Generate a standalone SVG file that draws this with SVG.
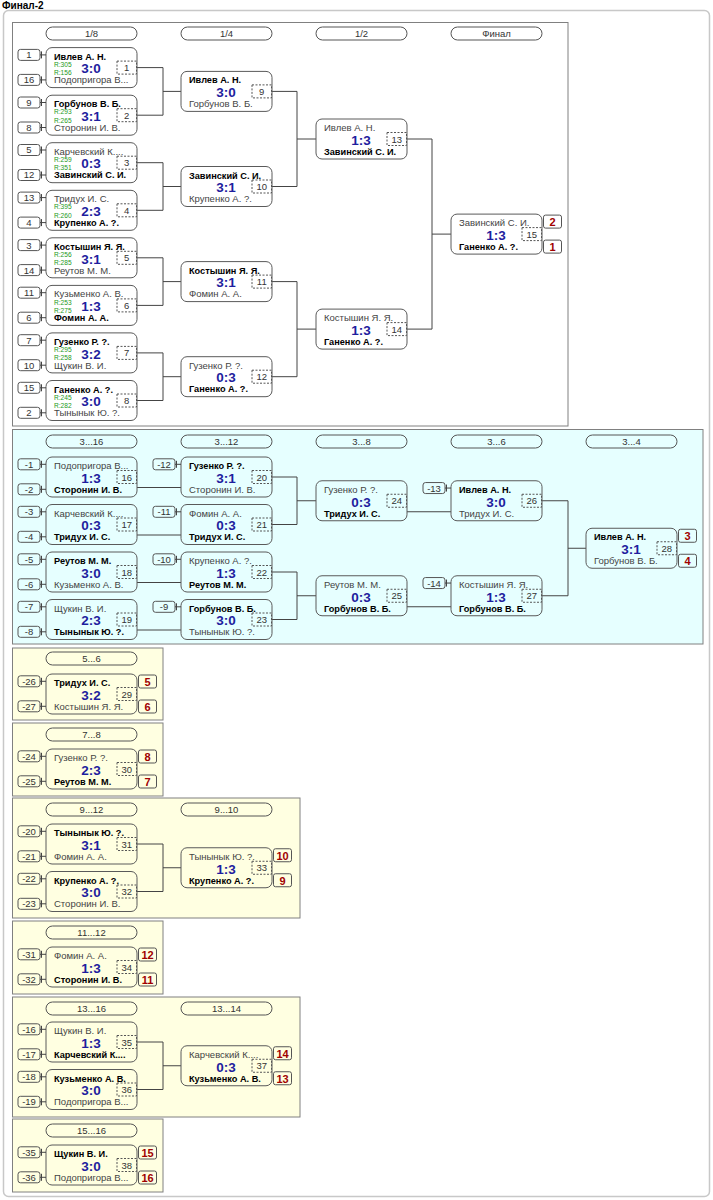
<svg xmlns="http://www.w3.org/2000/svg" xmlns:xlink="http://www.w3.org/1999/xlink" width="713" height="1200" viewBox="0 0 713 1200">
<style>
text{font-family:"Liberation Sans",Arial,sans-serif}
.box{fill:none;stroke:#5a5a5a;stroke-width:1}
.num{fill:none;stroke:#555;stroke-width:1;stroke-dasharray:2,1.5}
.sbx{fill:none;stroke:#555;stroke-width:1}
.ln{fill:none;stroke:#444;stroke-width:1}
.sec{stroke:#808080;stroke-width:1}
.pill{fill:none;stroke:#555;stroke-width:1}
.bdg{fill:none;stroke:#555;stroke-width:1}
.w{font-size:9.2px;font-weight:bold;fill:#000}
.l{font-size:9.5px;fill:#444}
.sc{font-size:13.5px;font-weight:bold;fill:#1e1e9e;text-anchor:middle}
.r{font-size:6.6px;fill:#229922}
.n{font-size:9.5px;fill:#333;text-anchor:middle}
.sd{font-size:9.5px;fill:#333;text-anchor:middle}
.bd{font-size:11px;font-weight:bold;fill:#a00000;text-anchor:middle}
.hd{font-size:9.5px;fill:#333;text-anchor:middle}
.tt{font-size:10px;font-weight:bold;fill:#000}
</style>
<defs>
<g id="frame"><rect class="box" width="91" height="40" rx="6"/><rect class="num" x="71" y="13.5" width="19.5" height="13"/></g>
<g id="st"><rect class="sbx" x="-28" y="1.8" width="22" height="11" rx="2.5"/><path class="ln" d="M-6,7.3H0M-4.5,3.8V10.8"/></g>
<g id="sb"><rect class="sbx" x="-28" y="26.8" width="22" height="11" rx="2.5"/><path class="ln" d="M-6,32.3H0M-4.5,28.8V35.8"/></g>
<rect id="bt" class="bdg" x="92.5" y="1" width="18" height="13" rx="2"/>
<rect id="bb" class="bdg" x="92.5" y="26" width="18" height="13" rx="2"/>
<rect id="pl" class="pill" width="91" height="13" rx="6.5"/>
</defs>
<rect width="713" height="1200" fill="#fff"/>
<text class="tt" x="2" y="9">Финал-2</text>
<rect x="3.5" y="10.5" width="706" height="1186" rx="5" fill="#fff" stroke="#c8c8c8" stroke-width="1.5"/>

<!-- sections -->
<g id="sections">
<rect class="sec" x="12.5" y="22.5" width="555.5" height="403.5" fill="#fff"/>
<rect class="sec" x="12.5" y="429.5" width="690.5" height="214.5" fill="#e6ffff"/>
<rect class="sec" x="12.5" y="648" width="150.5" height="72" fill="#ffffe1"/>
<rect class="sec" x="12.5" y="723" width="150.5" height="73" fill="#ffffe1"/>
<rect class="sec" x="12.5" y="798" width="287.5" height="120" fill="#ffffe1"/>
<rect class="sec" x="12.5" y="921" width="150.5" height="73" fill="#ffffe1"/>
<rect class="sec" x="12.5" y="997" width="287.5" height="120" fill="#ffffe1"/>
<rect class="sec" x="12.5" y="1119" width="150.5" height="73" fill="#ffffe1"/>
</g>

<!-- headers -->
<g id="headers">
<use href="#pl" x="46" y="27"/><text class="hd" x="91.5" y="37">1/8</text>
<use href="#pl" x="181" y="27"/><text class="hd" x="226.5" y="37">1/4</text>
<use href="#pl" x="316" y="27"/><text class="hd" x="361.5" y="37">1/2</text>
<use href="#pl" x="451" y="27"/><text class="hd" x="496.5" y="37">Финал</text>
<use href="#pl" x="46" y="435"/><text class="hd" x="91.5" y="445">3...16</text>
<use href="#pl" x="181" y="435"/><text class="hd" x="226.5" y="445">3...12</text>
<use href="#pl" x="316" y="435"/><text class="hd" x="361.5" y="445">3...8</text>
<use href="#pl" x="451" y="435"/><text class="hd" x="496.5" y="445">3...6</text>
<use href="#pl" x="586" y="435"/><text class="hd" x="631.5" y="445">3...4</text>
<use href="#pl" x="46" y="652"/><text class="hd" x="91.5" y="662">5...6</text>
<use href="#pl" x="46" y="728"/><text class="hd" x="91.5" y="738">7...8</text>
<use href="#pl" x="46" y="803"/><text class="hd" x="91.5" y="813">9...12</text>
<use href="#pl" x="181" y="803"/><text class="hd" x="226.5" y="813">9...10</text>
<use href="#pl" x="46" y="926"/><text class="hd" x="91.5" y="936">11...12</text>
<use href="#pl" x="46" y="1002"/><text class="hd" x="91.5" y="1012">13...16</text>
<use href="#pl" x="181" y="1002"/><text class="hd" x="226.5" y="1012">13...14</text>
<use href="#pl" x="46" y="1124"/><text class="hd" x="91.5" y="1134">15...16</text>
</g>

<!-- connectors -->
<g id="connectors" class="ln">
<path d="M137,67.6H163V115.2H137M163,91.4H181"/>
<path d="M137,162.7H163V210.3H137M163,186.5H181"/>
<path d="M137,257.8H163V305.4H137M163,281.6H181"/>
<path d="M137,352.9H163V400.5H137M163,376.7H181"/>
<path d="M272,91.4H297V186.5H272M297,139H316"/>
<path d="M272,281.6H297V376.7H272M297,329.1H316"/>
<path d="M407,139H432V329.1H407M432,234.1H451"/>
<path d="M137,487.5H181M137,535H181M137,582.5H181M137,630H181"/>
<path d="M272,477H297V524.5H272M297,500.75H316"/>
<path d="M272,572H297V619.5H272M297,595.75H316"/>
<path d="M407,511.75H451M407,606.75H451"/>
<path d="M542,500.75H568V595.75H542M568,548.25H586"/>
<path d="M137,844H163V891.5H137M163,867.75H181"/>
<path d="M137,1042H163V1089.5H137M163,1065.75H181"/>
</g>

<!-- main bracket -->
<g id="m1" transform="translate(46,47.6)"><use href="#frame"/><use href="#st"/><use href="#sb"/>
<text class="sd" x="-17" y="10.8">1</text><text class="sd" x="-17" y="35.8">16</text>
<text class="w" x="8" y="12">Ивлев А. Н.</text><text class="r" x="8" y="19.2">R:305</text><text class="r" x="8" y="27.4">R:156</text><text class="sc" x="45" y="25.8">3:0</text><text class="l" x="8" y="35.8">Подопригора В...</text><text class="n" x="80.75" y="23.5">1</text></g>
<g id="m2" transform="translate(46,95.2)"><use href="#frame"/><use href="#st"/><use href="#sb"/>
<text class="sd" x="-17" y="10.8">9</text><text class="sd" x="-17" y="35.8">8</text>
<text class="w" x="8" y="12">Горбунов В. Б.</text><text class="r" x="8" y="19.2">R:293</text><text class="r" x="8" y="27.4">R:265</text><text class="sc" x="45" y="25.8">3:1</text><text class="l" x="8" y="35.8">Сторонин И. В.</text><text class="n" x="80.75" y="23.5">2</text></g>
<g id="m3" transform="translate(46,142.7)"><use href="#frame"/><use href="#st"/><use href="#sb"/>
<text class="sd" x="-17" y="10.8">5</text><text class="sd" x="-17" y="35.8">12</text>
<text class="l" x="8" y="12">Карчевский К....</text><text class="r" x="8" y="19.2">R:259</text><text class="r" x="8" y="27.4">R:351</text><text class="sc" x="45" y="25.8">0:3</text><text class="w" x="8" y="35.8">Завинский С. И.</text><text class="n" x="80.75" y="23.5">3</text></g>
<g id="m4" transform="translate(46,190.3)"><use href="#frame"/><use href="#st"/><use href="#sb"/>
<text class="sd" x="-17" y="10.8">13</text><text class="sd" x="-17" y="35.8">4</text>
<text class="l" x="8" y="12">Тридух И. С.</text><text class="r" x="8" y="19.2">R:395</text><text class="r" x="8" y="27.4">R:260</text><text class="sc" x="45" y="25.8">2:3</text><text class="w" x="8" y="35.8">Крупенко А. ?.</text><text class="n" x="80.75" y="23.5">4</text></g>
<g id="m5" transform="translate(46,237.8)"><use href="#frame"/><use href="#st"/><use href="#sb"/>
<text class="sd" x="-17" y="10.8">3</text><text class="sd" x="-17" y="35.8">14</text>
<text class="w" x="8" y="12">Костышин Я. Я.</text><text class="r" x="8" y="19.2">R:256</text><text class="r" x="8" y="27.4">R:285</text><text class="sc" x="45" y="25.8">3:1</text><text class="l" x="8" y="35.8">Реутов М. М.</text><text class="n" x="80.75" y="23.5">5</text></g>
<g id="m6" transform="translate(46,285.4)"><use href="#frame"/><use href="#st"/><use href="#sb"/>
<text class="sd" x="-17" y="10.8">11</text><text class="sd" x="-17" y="35.8">6</text>
<text class="l" x="8" y="12">Кузьменко А. В.</text><text class="r" x="8" y="19.2">R:253</text><text class="r" x="8" y="27.4">R:275</text><text class="sc" x="45" y="25.8">1:3</text><text class="w" x="8" y="35.8">Фомин А. А.</text><text class="n" x="80.75" y="23.5">6</text></g>
<g id="m7" transform="translate(46,332.9)"><use href="#frame"/><use href="#st"/><use href="#sb"/>
<text class="sd" x="-17" y="10.8">7</text><text class="sd" x="-17" y="35.8">10</text>
<text class="w" x="8" y="12">Гузенко Р. ?.</text><text class="r" x="8" y="19.2">R:295</text><text class="r" x="8" y="27.4">R:258</text><text class="sc" x="45" y="25.8">3:2</text><text class="l" x="8" y="35.8">Щукин В. И.</text><text class="n" x="80.75" y="23.5">7</text></g>
<g id="m8" transform="translate(46,380.5)"><use href="#frame"/><use href="#st"/><use href="#sb"/>
<text class="sd" x="-17" y="10.8">15</text><text class="sd" x="-17" y="35.8">2</text>
<text class="w" x="8" y="12">Ганенко А. ?.</text><text class="r" x="8" y="19.2">R:245</text><text class="r" x="8" y="27.4">R:282</text><text class="sc" x="45" y="25.8">3:0</text><text class="l" x="8" y="35.8">Тынынык Ю. ?.</text><text class="n" x="80.75" y="23.5">8</text></g>
<g id="m9" transform="translate(181,71.4)"><use href="#frame"/>
<text class="w" x="8" y="12">Ивлев А. Н.</text><text class="sc" x="45" y="25.8">3:0</text><text class="l" x="8" y="35.8">Горбунов В. Б.</text><text class="n" x="80.75" y="23.5">9</text></g>
<g id="m10" transform="translate(181,166.5)"><use href="#frame"/>
<text class="w" x="8" y="12">Завинский С. И.</text><text class="sc" x="45" y="25.8">3:1</text><text class="l" x="8" y="35.8">Крупенко А. ?.</text><text class="n" x="80.75" y="23.5">10</text></g>
<g id="m11" transform="translate(181,261.6)"><use href="#frame"/>
<text class="w" x="8" y="12">Костышин Я. Я.</text><text class="sc" x="45" y="25.8">3:1</text><text class="l" x="8" y="35.8">Фомин А. А.</text><text class="n" x="80.75" y="23.5">11</text></g>
<g id="m12" transform="translate(181,356.7)"><use href="#frame"/>
<text class="l" x="8" y="12">Гузенко Р. ?.</text><text class="sc" x="45" y="25.8">0:3</text><text class="w" x="8" y="35.8">Ганенко А. ?.</text><text class="n" x="80.75" y="23.5">12</text></g>
<g id="m13" transform="translate(316,119)"><use href="#frame"/>
<text class="l" x="8" y="12">Ивлев А. Н.</text><text class="sc" x="45" y="25.8">1:3</text><text class="w" x="8" y="35.8">Завинский С. И.</text><text class="n" x="80.75" y="23.5">13</text></g>
<g id="m14" transform="translate(316,309.1)"><use href="#frame"/>
<text class="l" x="8" y="12">Костышин Я. Я.</text><text class="sc" x="45" y="25.8">1:3</text><text class="w" x="8" y="35.8">Ганенко А. ?.</text><text class="n" x="80.75" y="23.5">14</text></g>
<g id="m15" transform="translate(451,214.1)"><use href="#frame"/><use href="#bt"/><use href="#bb"/>
<text class="l" x="8" y="12">Завинский С. И.</text><text class="sc" x="45" y="25.8">1:3</text><text class="w" x="8" y="35.8">Ганенко А. ?.</text><text class="n" x="80.75" y="23.5">15</text>
<text class="bd" x="101.5" y="11.8">2</text><text class="bd" x="101.5" y="36.8">1</text></g>

<!-- 3...16 -->
<g id="m16" transform="translate(46,457)"><use href="#frame"/><use href="#st"/><use href="#sb"/>
<text class="sd" x="-17" y="10.8">-1</text><text class="sd" x="-17" y="35.8">-2</text>
<text class="l" x="8" y="12">Подопригора В...</text><text class="sc" x="45" y="25.8">1:3</text><text class="w" x="8" y="35.8">Сторонин И. В.</text><text class="n" x="80.75" y="23.5">16</text></g>
<g id="m17" transform="translate(46,504.5)"><use href="#frame"/><use href="#st"/><use href="#sb"/>
<text class="sd" x="-17" y="10.8">-3</text><text class="sd" x="-17" y="35.8">-4</text>
<text class="l" x="8" y="12">Карчевский К....</text><text class="sc" x="45" y="25.8">0:3</text><text class="w" x="8" y="35.8">Тридух И. С.</text><text class="n" x="80.75" y="23.5">17</text></g>
<g id="m18" transform="translate(46,552)"><use href="#frame"/><use href="#st"/><use href="#sb"/>
<text class="sd" x="-17" y="10.8">-5</text><text class="sd" x="-17" y="35.8">-6</text>
<text class="w" x="8" y="12">Реутов М. М.</text><text class="sc" x="45" y="25.8">3:0</text><text class="l" x="8" y="35.8">Кузьменко А. В.</text><text class="n" x="80.75" y="23.5">18</text></g>
<g id="m19" transform="translate(46,599.5)"><use href="#frame"/><use href="#st"/><use href="#sb"/>
<text class="sd" x="-17" y="10.8">-7</text><text class="sd" x="-17" y="35.8">-8</text>
<text class="l" x="8" y="12">Щукин В. И.</text><text class="sc" x="45" y="25.8">2:3</text><text class="w" x="8" y="35.8">Тынынык Ю. ?.</text><text class="n" x="80.75" y="23.5">19</text></g>
<g id="m20" transform="translate(181,457)"><use href="#frame"/><use href="#st"/>
<text class="sd" x="-17" y="10.8">-12</text>
<text class="w" x="8" y="12">Гузенко Р. ?.</text><text class="sc" x="45" y="25.8">3:1</text><text class="l" x="8" y="35.8">Сторонин И. В.</text><text class="n" x="80.75" y="23.5">20</text></g>
<g id="m21" transform="translate(181,504.5)"><use href="#frame"/><use href="#st"/>
<text class="sd" x="-17" y="10.8">-11</text>
<text class="l" x="8" y="12">Фомин А. А.</text><text class="sc" x="45" y="25.8">0:3</text><text class="w" x="8" y="35.8">Тридух И. С.</text><text class="n" x="80.75" y="23.5">21</text></g>
<g id="m22" transform="translate(181,552)"><use href="#frame"/><use href="#st"/>
<text class="sd" x="-17" y="10.8">-10</text>
<text class="l" x="8" y="12">Крупенко А. ?.</text><text class="sc" x="45" y="25.8">1:3</text><text class="w" x="8" y="35.8">Реутов М. М.</text><text class="n" x="80.75" y="23.5">22</text></g>
<g id="m23" transform="translate(181,599.5)"><use href="#frame"/><use href="#st"/>
<text class="sd" x="-17" y="10.8">-9</text>
<text class="w" x="8" y="12">Горбунов В. Б.</text><text class="sc" x="45" y="25.8">3:0</text><text class="l" x="8" y="35.8">Тынынык Ю. ?.</text><text class="n" x="80.75" y="23.5">23</text></g>
<g id="m24" transform="translate(316,480.75)"><use href="#frame"/>
<text class="l" x="8" y="12">Гузенко Р. ?.</text><text class="sc" x="45" y="25.8">0:3</text><text class="w" x="8" y="35.8">Тридух И. С.</text><text class="n" x="80.75" y="23.5">24</text></g>
<g id="m25" transform="translate(316,575.75)"><use href="#frame"/>
<text class="l" x="8" y="12">Реутов М. М.</text><text class="sc" x="45" y="25.8">0:3</text><text class="w" x="8" y="35.8">Горбунов В. Б.</text><text class="n" x="80.75" y="23.5">25</text></g>
<g id="m26" transform="translate(451,480.75)"><use href="#frame"/><use href="#st"/>
<text class="sd" x="-17" y="10.8">-13</text>
<text class="w" x="8" y="12">Ивлев А. Н.</text><text class="sc" x="45" y="25.8">3:0</text><text class="l" x="8" y="35.8">Тридух И. С.</text><text class="n" x="80.75" y="23.5">26</text></g>
<g id="m27" transform="translate(451,575.75)"><use href="#frame"/><use href="#st"/>
<text class="sd" x="-17" y="10.8">-14</text>
<text class="l" x="8" y="12">Костышин Я. Я.</text><text class="sc" x="45" y="25.8">1:3</text><text class="w" x="8" y="35.8">Горбунов В. Б.</text><text class="n" x="80.75" y="23.5">27</text></g>
<g id="m28" transform="translate(586,528.25)"><use href="#frame"/><use href="#bt"/><use href="#bb"/>
<text class="w" x="8" y="12">Ивлев А. Н.</text><text class="sc" x="45" y="25.8">3:1</text><text class="l" x="8" y="35.8">Горбунов В. Б.</text><text class="n" x="80.75" y="23.5">28</text>
<text class="bd" x="101.5" y="11.8">3</text><text class="bd" x="101.5" y="36.8">4</text></g>

<!-- 5...6 -->
<g id="m29" transform="translate(46,674)"><use href="#frame"/><use href="#st"/><use href="#sb"/><use href="#bt"/><use href="#bb"/>
<text class="sd" x="-17" y="10.8">-26</text><text class="sd" x="-17" y="35.8">-27</text>
<text class="w" x="8" y="12">Тридух И. С.</text><text class="sc" x="45" y="25.8">3:2</text><text class="l" x="8" y="35.8">Костышин Я. Я.</text><text class="n" x="80.75" y="23.5">29</text>
<text class="bd" x="101.5" y="11.8">5</text><text class="bd" x="101.5" y="36.8">6</text></g>
<!-- 7...8 -->
<g id="m30" transform="translate(46,749)"><use href="#frame"/><use href="#st"/><use href="#sb"/><use href="#bt"/><use href="#bb"/>
<text class="sd" x="-17" y="10.8">-24</text><text class="sd" x="-17" y="35.8">-25</text>
<text class="l" x="8" y="12">Гузенко Р. ?.</text><text class="sc" x="45" y="25.8">2:3</text><text class="w" x="8" y="35.8">Реутов М. М.</text><text class="n" x="80.75" y="23.5">30</text>
<text class="bd" x="101.5" y="11.8">8</text><text class="bd" x="101.5" y="36.8">7</text></g>
<!-- 9...12 -->
<g id="m31" transform="translate(46,824)"><use href="#frame"/><use href="#st"/><use href="#sb"/>
<text class="sd" x="-17" y="10.8">-20</text><text class="sd" x="-17" y="35.8">-21</text>
<text class="w" x="8" y="12">Тынынык Ю. ?.</text><text class="sc" x="45" y="25.8">3:1</text><text class="l" x="8" y="35.8">Фомин А. А.</text><text class="n" x="80.75" y="23.5">31</text></g>
<g id="m32" transform="translate(46,871.5)"><use href="#frame"/><use href="#st"/><use href="#sb"/>
<text class="sd" x="-17" y="10.8">-22</text><text class="sd" x="-17" y="35.8">-23</text>
<text class="w" x="8" y="12">Крупенко А. ?.</text><text class="sc" x="45" y="25.8">3:0</text><text class="l" x="8" y="35.8">Сторонин И. В.</text><text class="n" x="80.75" y="23.5">32</text></g>
<g id="m33" transform="translate(181,847.75)"><use href="#frame"/><use href="#bt"/><use href="#bb"/>
<text class="l" x="8" y="12">Тынынык Ю. ?.</text><text class="sc" x="45" y="25.8">1:3</text><text class="w" x="8" y="35.8">Крупенко А. ?.</text><text class="n" x="80.75" y="23.5">33</text>
<text class="bd" x="101.5" y="11.8">10</text><text class="bd" x="101.5" y="36.8">9</text></g>
<!-- 11...12 -->
<g id="m34" transform="translate(46,947)"><use href="#frame"/><use href="#st"/><use href="#sb"/><use href="#bt"/><use href="#bb"/>
<text class="sd" x="-17" y="10.8">-31</text><text class="sd" x="-17" y="35.8">-32</text>
<text class="l" x="8" y="12">Фомин А. А.</text><text class="sc" x="45" y="25.8">1:3</text><text class="w" x="8" y="35.8">Сторонин И. В.</text><text class="n" x="80.75" y="23.5">34</text>
<text class="bd" x="101.5" y="11.8">12</text><text class="bd" x="101.5" y="36.8">11</text></g>
<!-- 13...16 -->
<g id="m35" transform="translate(46,1022)"><use href="#frame"/><use href="#st"/><use href="#sb"/>
<text class="sd" x="-17" y="10.8">-16</text><text class="sd" x="-17" y="35.8">-17</text>
<text class="l" x="8" y="12">Щукин В. И.</text><text class="sc" x="45" y="25.8">1:3</text><text class="w" x="8" y="35.8">Карчевский К....</text><text class="n" x="80.75" y="23.5">35</text></g>
<g id="m36" transform="translate(46,1069.5)"><use href="#frame"/><use href="#st"/><use href="#sb"/>
<text class="sd" x="-17" y="10.8">-18</text><text class="sd" x="-17" y="35.8">-19</text>
<text class="w" x="8" y="12">Кузьменко А. В.</text><text class="sc" x="45" y="25.8">3:0</text><text class="l" x="8" y="35.8">Подопригора В...</text><text class="n" x="80.75" y="23.5">36</text></g>
<g id="m37" transform="translate(181,1045.75)"><use href="#frame"/><use href="#bt"/><use href="#bb"/>
<text class="l" x="8" y="12">Карчевский К....</text><text class="sc" x="45" y="25.8">0:3</text><text class="w" x="8" y="35.8">Кузьменко А. В.</text><text class="n" x="80.75" y="23.5">37</text>
<text class="bd" x="101.5" y="11.8">14</text><text class="bd" x="101.5" y="36.8">13</text></g>
<!-- 15...16 -->
<g id="m38" transform="translate(46,1145)"><use href="#frame"/><use href="#st"/><use href="#sb"/><use href="#bt"/><use href="#bb"/>
<text class="sd" x="-17" y="10.8">-35</text><text class="sd" x="-17" y="35.8">-36</text>
<text class="w" x="8" y="12">Щукин В. И.</text><text class="sc" x="45" y="25.8">3:0</text><text class="l" x="8" y="35.8">Подопригора В...</text><text class="n" x="80.75" y="23.5">38</text>
<text class="bd" x="101.5" y="11.8">15</text><text class="bd" x="101.5" y="36.8">16</text></g>
</svg>
